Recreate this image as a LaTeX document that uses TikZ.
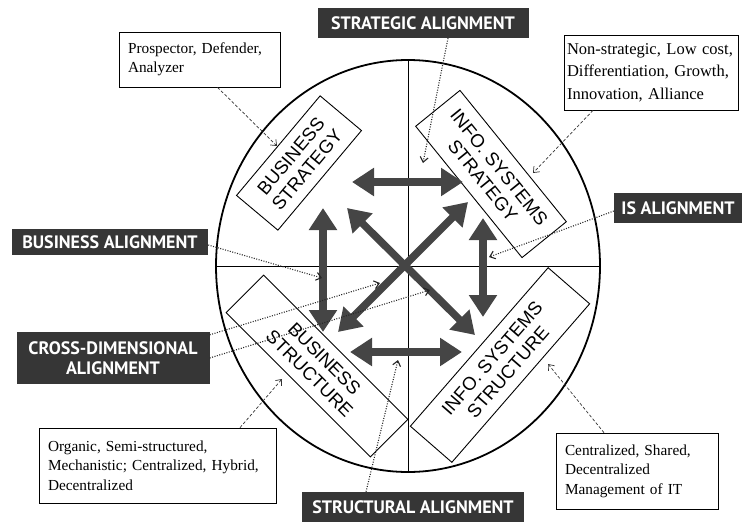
\documentclass[tikz,border=0pt]{standalone}
\usepackage{fontspec}
\setmainfont{Liberation Serif}
\newfontfamily\boxsans{Liberation Sans}
\newfontfamily\lblsans{PT Sans}
\usetikzlibrary{arrows.meta,shapes.geometric,calc}
\definecolor{lblfill}{HTML}{363636}
\definecolor{arrcol}{HTML}{454545}
\begin{document}
\begin{tikzpicture}[x=1pt,y=-1pt,
  quad/.style={draw,line width=0.9pt,font=\boxsans\fontsize{18.5}{21}\selectfont,align=center,inner sep=0pt},
  lbl/.style={fill=lblfill,text=white,font=\lblsans\bfseries\fontsize{18}{20}\selectfont,align=center,inner sep=0pt},
  info/.style={draw,line width=0.7pt,font=\fontsize{15.3}{19.5}\selectfont,align=left,inner xsep=9pt,inner ysep=0pt},
  bigarrow/.style={arrcol,line width=7.5pt,{Triangle[width=27pt,length=22pt]}-{Triangle[width=27pt,length=22pt]}},
  dashconn/.style={gray!40!black,line width=0.7pt,dash pattern=on 3pt off 2pt,-{Straight Barb[length=5pt,width=8pt]}},
  dotconn/.style={black!85,line width=1.1pt,dash pattern=on 1pt off 1.5pt,-{Straight Barb[length=5pt,width=8pt]}}
]
\useasboundingbox (0,0) rectangle (742,522);

% circle and cross
\node[draw,ellipse,line width=1.8pt,minimum width=384pt,minimum height=412pt,inner sep=0pt] (circ) at (408,266) {};
\draw[line width=0.9pt] (circ.north) -- (circ.south);
\draw[line width=0.9pt] (circ.west) -- (circ.east);

% quadrant boxes
\node[quad,rotate=50,minimum width=130pt,minimum height=54pt] (bstrat) at (299,163) {BUSINESS\\STRATEGY};
\node[quad,rotate=-51,minimum width=169pt,minimum height=57pt] (isstrat) at (491,174) {INFO. SYSTEMS\\STRATEGY};
\node[quad,rotate=-45,minimum width=204pt,minimum height=53pt] (bstruct) at (317,366) {BUSINESS\\STRUCTURE};
\node[quad,rotate=49,minimum width=210pt,minimum height=55pt] (isstruct) at (500,365) {INFO. SYSTEMS\\STRUCTURE};

% thick arrows
\coordinate (t1) at (352,182); \coordinate (t2) at (463,182);
\coordinate (b1) at (350,352); \coordinate (b2) at (462,352);
\coordinate (l1) at (323,208); \coordinate (l2) at (323,332);
\coordinate (r1) at (483,218); \coordinate (r2) at (483,317);
\coordinate (d1) at (468,202); \coordinate (d2) at (338,332);
\coordinate (e1) at (347,208); \coordinate (e2) at (475,335);
\draw[bigarrow] (t1) -- (t2);
\draw[bigarrow] (b1) -- (b2);
\draw[bigarrow] (l1) -- (l2);
\draw[bigarrow] (r1) -- (r2);
\draw[bigarrow] (d1) -- (d2);
\draw[bigarrow] (e1) -- (e2);

% alignment labels
\node[lbl,minimum width=211pt,minimum height=30pt] (salign) at (423,23) {STRATEGIC ALIGNMENT};
\node[lbl,minimum width=128pt,minimum height=30pt] (isalign) at (678,208) {IS ALIGNMENT};
\node[lbl,minimum width=196pt,minimum height=26pt] (balign) at (110,242) {BUSINESS ALIGNMENT};
\node[lbl,minimum width=193pt,minimum height=52pt] (calign) at (113,358) {CROSS-DIMENSIONAL\\ALIGNMENT};
\node[lbl,minimum width=222pt,minimum height=30pt] (stalign) at (413,507) {STRUCTURAL ALIGNMENT};

% info boxes
\node[info,text width=143pt,minimum height=55pt] (pbox) at (199.5,59.5) {Prospector, Defender,\\Analyzer};
\node[info,text width=168pt,minimum height=75pt,font=\fontsize{16.5}{22.5}\selectfont,inner xsep=3pt] (nbox) at (651,72.5) {Non-strategic, Low cost,\\Differentiation, Growth,\\Innovation, Alliance};
\node[info,text width=219pt,minimum height=75pt] (obox) at (157.5,465.5) {Organic, Semi-structured,\\Mechanistic; Centralized, Hybrid,\\Decentralized};
\node[info,text width=144pt,minimum height=76pt] (cbox) at (637,471) {Centralized, Shared,\\Decentralized\\Management of IT};

% dashed connectors
\coordinate (pe) at (277,146);
\coordinate (ne) at (533,173);
\coordinate (oe) at (282,379);
\coordinate (ce) at (548,364);
\draw[dashconn] ([xshift=18pt]pbox.south) -- (pe);
\draw[dashconn] ([xshift=-58pt]nbox.south) -- (ne);
\draw[dashconn] ([xshift=82.5pt]obox.north) -- (oe);
\draw[dashconn] ([xshift=-33pt]cbox.north) -- (ce);

% dotted connectors
\coordinate (se) at (423,163);
\coordinate (ie) at (489,257);
\coordinate (be) at (322,278);
\coordinate (c1e) at (380,283);
\coordinate (c2e) at (430,290);
\coordinate (ste) at (398,360);
\draw[dotconn] ([xshift=25pt]salign.south) -- (se);
\draw[dotconn] ([yshift=-3pt]isalign.west) -- (ie);
\draw[dotconn] ([yshift=-3pt]balign.east) -- (be);
\draw[dotconn] ([yshift=-3pt]calign.north east) -- (c1e);
\draw[dotconn] (calign.east) -- (c2e);
\draw[dotconn] ([xshift=-47pt]stalign.north) -- (ste);
\end{tikzpicture}
\end{document}
